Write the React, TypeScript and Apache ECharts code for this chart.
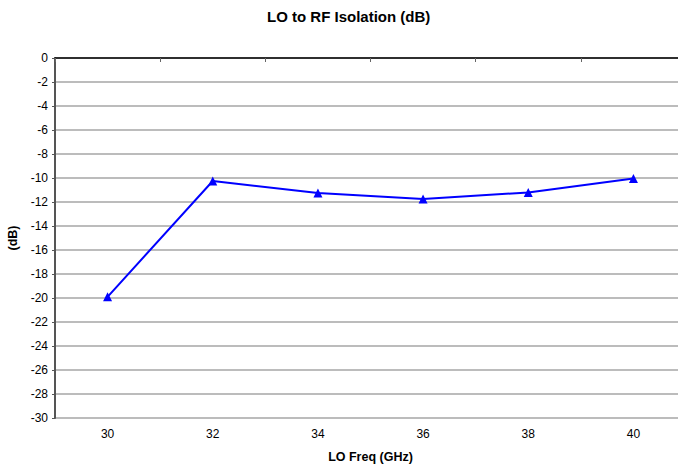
import React, { useEffect, useRef } from "react";
import * as echarts from "echarts";

const categories = ["30", "32", "34", "36", "38", "40"];
const isolation = [-19.9, -10.25, -11.25, -11.75, -11.2, -10.05];

export default function App() {
  const ref = useRef<HTMLDivElement>(null);
  useEffect(() => {
    if (!ref.current) return;
    const chart = echarts.init(ref.current, null, { renderer: "svg" });
    const font = "Liberation Sans, Arial, sans-serif";
    chart.setOption({
      animation: false,
      backgroundColor: "#ffffff",
      title: {
        text: "LO to RF Isolation (dB)",
        left: 267,
        top: 9,
        padding: 0,
        textStyle: { fontFamily: font, fontSize: 15, fontWeight: "bold", color: "#000" },
      },
      grid: {
        left: 55,
        top: 58,
        width: 631,
        height: 360,
        containLabel: false,
        outerBoundsMode: "none",
      },
      xAxis: {
        type: "category",
        data: categories,
        boundaryGap: true,
        name: "LO Freq (GHz)",
        nameLocation: "middle",
        nameGap: 32,
        nameTextStyle: { fontFamily: font, fontSize: 12.5, fontWeight: "bold", color: "#000" },
        axisLine: { lineStyle: { color: "#000", width: 1.5 } },
        axisTick: { show: true, length: 4, inside: false, lineStyle: { color: "#666" } },
        axisLabel: { fontFamily: font, fontSize: 12, color: "#000", margin: 10 },
        splitLine: { show: false },
      },
      yAxis: {
        type: "value",
        min: -30,
        max: 0,
        interval: 2,
        name: "(dB)",
        nameLocation: "middle",
        nameGap: 36,
        nameRotate: 90,
        nameTextStyle: { fontFamily: font, fontSize: 12.5, fontWeight: "bold", color: "#000" },
        axisLine: { show: true, lineStyle: { color: "#555", width: 2 } },
        axisTick: { show: true, length: 3, lineStyle: { color: "#555" } },
        axisLabel: { fontFamily: font, fontSize: 12, color: "#000", margin: 7 },
        splitLine: { show: true, lineStyle: { color: "#a6a6a6", width: 1.5 } },
      },
      series: [
        {
          type: "line",
          data: isolation,
          symbol: "triangle",
          symbolSize: 9,
          lineStyle: { color: "#0000ff", width: 2 },
          itemStyle: { color: "#0000ff" },
        },
      ],
    });
    return () => chart.dispose();
  }, []);
  return (
    <div
      ref={ref}
      style={{ position: "fixed", left: 0, top: 0, width: 678, height: 464 }}
    />
  );
}
